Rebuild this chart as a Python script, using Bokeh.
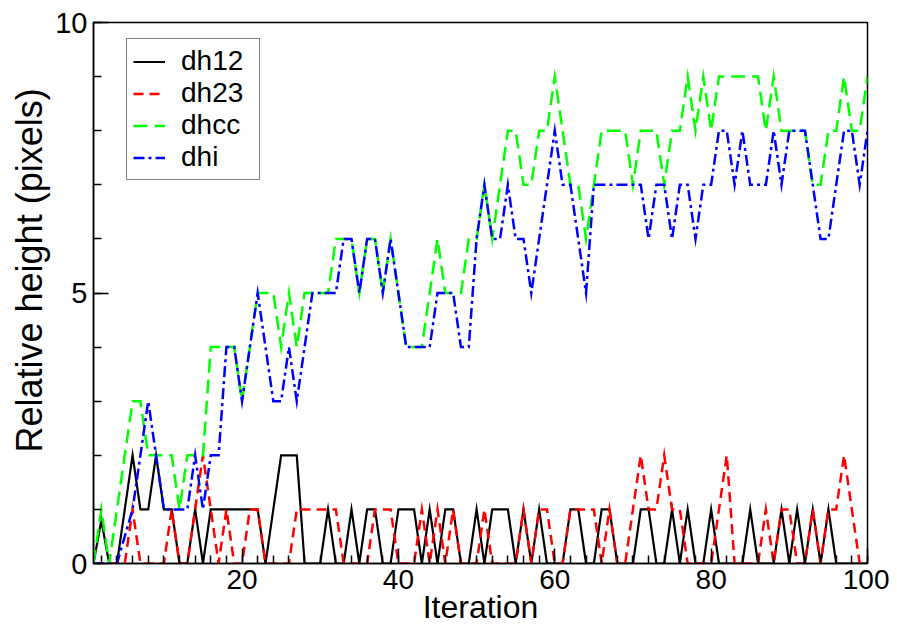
from bokeh.plotting import figure
from bokeh.models import Range1d, FixedTicker, Legend, LegendItem, Title
from bokeh.embed import file_html
from bokeh.resources import INLINE

iterations = list(range(1, 101))

dh12 = [0, 0.8, 0, 0, 1, 2, 1, 1, 2, 1,
        1, 0, 0, 1, 0, 1, 1, 1, 1, 1,
        1, 1, 0, 1, 2, 2, 2, 0, 0, 0,
        1, 0, 0, 1, 0, 1, 1, 0, 0, 1,
        1, 1, 0, 1, 0, 1, 1, 0, 0, 1,
        0, 1, 1, 1, 0, 1, 0, 1, 0, 0,
        0, 1, 1, 0, 0, 1, 1, 0, 0, 0,
        1, 1, 0, 0, 1, 0, 1, 0, 0, 1,
        0, 0, 0, 0, 1, 0, 0, 0, 1, 0,
        1, 0, 1, 0, 1, 0, 0, 0, 0, 0]

dh23 = [0, 0, 0, 0, 0, 1, 0, 0, 0, 0,
        1, 0, 0, 1, 2, 1, 0, 1, 0, 0,
        1, 1, 0, 0, 0, 0, 1, 1, 1, 1,
        1, 1, 0, 0, 0, 0, 1, 1, 1, 0,
        0, 0, 1, 0, 1, 0, 1, 0, 0, 0,
        1, 0, 0, 0, 0, 1, 0, 1, 1, 0,
        0, 1, 1, 1, 1, 0, 1, 0, 0, 1,
        2, 1, 1, 2, 1, 1, 0, 0, 0, 0,
        1, 2, 0, 0, 0, 0, 1, 0, 1, 1,
        0, 0, 1, 0, 1, 1, 2, 1, 0, 0]

dhcc = [0, 1, 0, 1, 2, 3, 3, 2, 2, 2,
        2, 1, 2, 2, 2, 4, 4, 4, 4, 3,
        4, 5, 5, 5, 4, 5, 4, 5, 5, 5,
        5, 6, 6, 6, 5, 6, 6, 5, 6, 5,
        4, 4, 4, 5, 6, 5, 5, 5, 6, 6,
        7, 6, 7, 8, 8, 7, 7, 8, 8, 9,
        8, 7, 7, 6, 7, 8, 8, 8, 8, 7,
        8, 8, 8, 7, 8, 8, 9, 8, 9, 8,
        9, 9, 9, 9, 9, 9, 8, 9, 8, 8,
        8, 8, 7, 7, 8, 8, 9, 8, 8, 9]

dhi = [0, 0, 0, 0, 0.5, 1, 2, 3, 2, 1,
       1, 1, 1, 2, 1, 2, 2, 4, 4, 3,
       4, 5, 4, 3, 3, 4, 3, 4, 5, 5,
       5, 5, 6, 6, 5, 6, 6, 5, 6, 5,
       4, 4, 4, 4, 5, 5, 5, 4, 4, 6,
       7, 6, 6, 7, 6, 6, 5, 6, 7, 8,
       7, 7, 6, 5, 7, 7, 7, 7, 7, 7,
       7, 6, 7, 7, 6, 7, 7, 6, 7, 7,
       8, 8, 7, 8, 7, 7, 7, 8, 7, 8,
       8, 8, 7, 6, 6, 7, 8, 8, 7, 8]

x_major = [20, 40, 60, 80, 100]
x_minor = list(range(2, 101, 2))
y_major = [0, 5, 10]
y_minor = list(range(0, 11))

FONT = "Liberation Sans"

p = figure(width=889, height=633, output_backend="svg", toolbar_location=None,
           x_range=Range1d(1, 100), y_range=Range1d(0, 10),
           min_border_left=93, min_border_right=22, min_border_top=22,
           min_border_bottom=70)

p.xgrid.visible = False
p.ygrid.visible = False
p.outline_line_color = "black"
p.outline_line_width = 1.5
p.background_fill_color = "white"
p.border_fill_color = "white"

for ax in (p.xaxis[0], p.yaxis[0]):
    ax.axis_line_width = 1.5
    ax.major_tick_in = 15
    ax.major_tick_out = 0
    ax.minor_tick_in = 8
    ax.minor_tick_out = 0
    ax.major_tick_line_width = 1.5
    ax.minor_tick_line_width = 1.5
    ax.major_label_text_font = FONT
    ax.major_label_text_color = "black"
    ax.axis_label_text_font = FONT
    ax.axis_label_text_font_style = "normal"
    ax.axis_label_text_color = "black"

p.xaxis[0].ticker = FixedTicker(ticks=x_major, minor_ticks=x_minor)
p.yaxis[0].ticker = FixedTicker(ticks=y_major, minor_ticks=y_minor)
p.xaxis[0].axis_label = "Iteration"
p.xaxis[0].major_label_text_font_size = "28px"
p.yaxis[0].major_label_text_font_size = "29px"
p.xaxis[0].axis_label_text_font_size = "32px"
p.xaxis[0].major_label_standoff = 6
p.xaxis[0].axis_label_standoff = -3
p.yaxis[0].major_label_standoff = 6

ytitle = Title(text="Relative height (pixels)", text_font=FONT,
               text_font_size="36px", text_font_style="normal",
               text_color="black", align="left", offset=111, standoff=6)
p.add_layout(ytitle, "left")

r1 = p.line(iterations, dh12, line_color="black", line_width=2.2, line_join="miter")
r2 = p.line(iterations, dh23, line_color="#ff0000", line_width=2.5, line_dash="10 6", line_join="miter")
r3 = p.line(iterations, dhcc, line_color="#00ff00", line_width=2.5, line_dash="14 7", line_join="miter")
r4 = p.line(iterations, dhi, line_color="#0000ff", line_width=2.5, line_dash="11 4 3 4", line_join="miter")

legend = Legend(items=[LegendItem(label="dh12", renderers=[r1]),
                       LegendItem(label="dh23", renderers=[r2]),
                       LegendItem(label="dhcc", renderers=[r3]),
                       LegendItem(label="dhi", renderers=[r4])],
                location=(33, 383), margin=0, padding=6, spacing=0,
                border_line_color="black", border_line_width=1.5,
                background_fill_color="white", background_fill_alpha=1,
                label_text_font=FONT, label_text_font_size="28px",
                label_text_color="black", label_width=72,
                glyph_width=32, glyph_height=31, label_height=31,
                label_standoff=16)
p.add_layout(legend)

open("out.html", "w").write(file_html(p, INLINE))
